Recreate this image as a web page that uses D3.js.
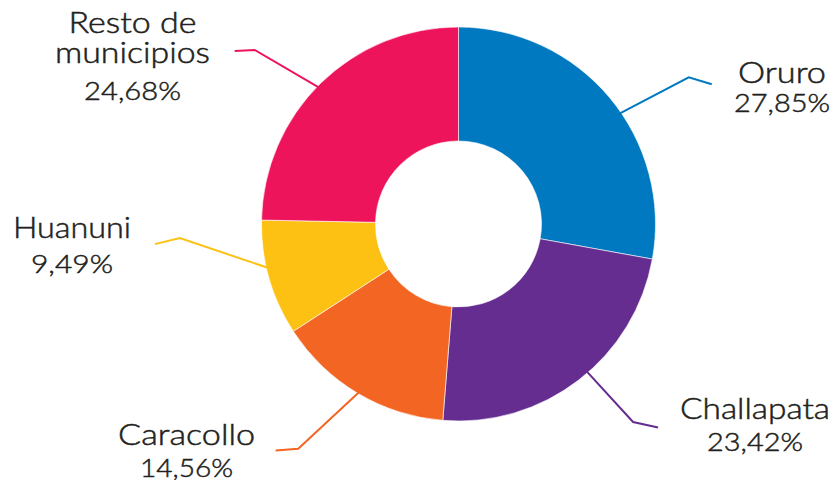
<!DOCTYPE html>
<html>
<head>
<meta charset="utf-8">
<script src="https://cdn.jsdelivr.net/npm/d3@7"></script>
<style>
  html, body { margin: 0; padding: 0; background: #fff; }
  svg { display: block; }
  text { font-family: "Lato", "Open Sans", sans-serif; font-weight: 300; fill: #231f20; stroke: #231f20; stroke-width: 0.5px; }
</style>
</head>
<body>
<svg id="chart" width="837" height="480"></svg>
<script>
// ---- data ----
const categories = ["Oruro", "Challapata", "Caracollo", "Huanuni", "Resto de municipios"];
const values = [27.85, 23.42, 14.56, 9.49, 24.68];
const valueLabels = ["27,85%", "23,42%", "14,56%", "9,49%", "24,68%"];

// ---- styling / layout ----
const colors = ["#0079c1", "#662d91", "#f26522", "#fdc113", "#ed145b"];
const nameLines = [["Oruro"], ["Challapata"], ["Caracollo"], ["Huanuni"], ["Resto de", "municipios"]];
// leader: start angle on outer edge, elbow angle & radius (deg/px), tail offset
const leaders = [
  { a1: 55.5, a2: 57.5, r2: 273, tx: 23, ty: 7 },
  { a1: 139, a2: 138.6, r2: 264, tx: 25, ty: 5.4 },
  { a1: 210.4, a2: 215.5, r2: 276, tx: -22.6, ty: 1.7 },
  { a1: 256.6, a2: 267.1, r2: 279, tx: -25, ty: 6 },
  { a1: 314.5, a2: 310.5, r2: 268, tx: -20, ty: 1 }
];
// label blocks: centre x, baselines of name lines, baseline of value, widths
const labelPos = [
  { x: 782, ys: [83], vy: 111.7, ws: [88], vw: 96 },
  { x: 755, ys: [419], vy: 450.7, ws: [150], vw: 96 },
  { x: 186.6, ys: [445], vy: 476.5, ws: [137], vw: 93 },
  { x: 72, ys: [238.3], vy: 272.7, ws: [118], vw: 82 },
  { x: 132.5, ys: [33.3, 63.3], vy: 100, ws: [128, 155], vw: 97 }
];

const cx = 458.5, cy = 224, rOuter = 197, rInner = 83;
const svg = d3.select("#chart");
const g = svg.append("g").attr("transform", `translate(${cx},${cy})`);

const pie = d3.pie().sort(null).value(d => d).startAngle(0).endAngle(2 * Math.PI);
const arcs = pie(values);
const arc = d3.arc().innerRadius(rInner).outerRadius(rOuter);

g.selectAll("path.slice")
  .data(arcs)
  .join("path")
  .attr("class", "slice")
  .attr("d", arc)
  .attr("fill", (d, i) => colors[i])
  .attr("stroke", "#fff")
  .attr("stroke-width", 0.6);

const rad = deg => deg * Math.PI / 180;
g.selectAll("polyline.leader")
  .data(arcs)
  .join("polyline")
  .attr("class", "leader")
  .attr("fill", "none")
  .attr("stroke", (d, i) => colors[i])
  .attr("stroke-width", 2)
  .attr("points", (d, i) => {
    const L = leaders[i];
    const p1 = d3.pointRadial(rad(L.a1), rOuter - 4);
    const p2 = d3.pointRadial(rad(L.a2), L.r2);
    const p3 = [p2[0] + L.tx, p2[1] + L.ty];
    return [p1, p2, p3].map(p => p.join(",")).join(" ");
  });

const labels = svg.selectAll("g.label")
  .data(categories)
  .join("g")
  .attr("class", "label");

labels.each(function(c, i) {
  const sel = d3.select(this);
  const P = labelPos[i];
  nameLines[i].forEach((t, k) => {
    sel.append("text")
      .attr("x", P.x).attr("y", P.ys[k])
      .attr("text-anchor", "middle")
      .attr("font-size", 28.5)
      .attr("textLength", P.ws[k])
      .attr("lengthAdjust", "spacingAndGlyphs")
      .text(t);
  });
  sel.append("text")
    .attr("x", P.x).attr("y", P.vy)
    .attr("text-anchor", "middle")
    .attr("font-size", 26)
    .attr("textLength", P.vw)
    .attr("lengthAdjust", "spacingAndGlyphs")
    .text(valueLabels[i]);
});
</script>
</body>
</html>
